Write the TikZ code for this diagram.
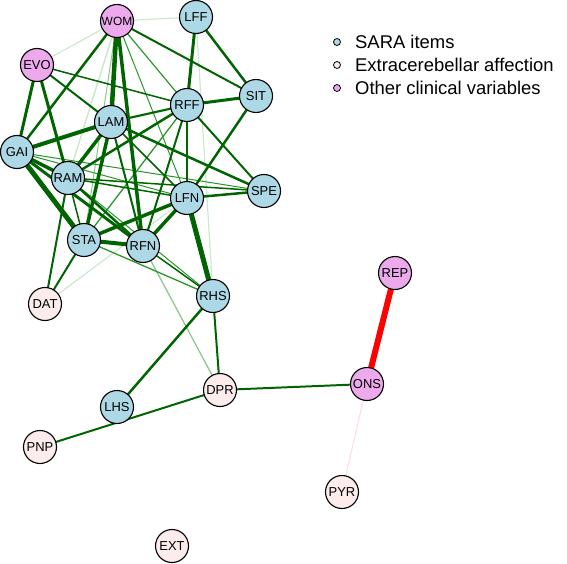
\documentclass[tikz,border=0pt]{standalone}
\usepackage{fontspec}
\setmainfont{Liberation Sans}
\usetikzlibrary{backgrounds}
\definecolor{saraFill}{RGB}{173,216,230}
\definecolor{extraFill}{RGB}{253,236,236}
\definecolor{otherFill}{RGB}{236,170,236}
\definecolor{posDark}{RGB}{0,100,0}
\definecolor{posMid}{RGB}{40,150,40}
\definecolor{posLight}{RGB}{140,200,140}
\definecolor{posFaint}{RGB}{205,232,205}
\definecolor{negRed}{RGB}{255,0,0}
\definecolor{negFaint}{RGB}{250,226,226}
\tikzset{
  var/.style={circle, draw, line width=1.1bp, minimum size=33bp, inner sep=0pt,
    font=\fontsize{13}{13}\selectfont},
  sara/.style={var, fill=saraFill},
  extra/.style={var, fill=extraFill},
  other/.style={var, fill=otherFill},
  corr/.style={draw=posDark, line width=#1},
  midcorr/.style={draw=posMid, line width=#1},
  weakcorr/.style={draw=posLight, line width=#1},
  faintcorr/.style={draw=posFaint, line width=#1},
  negcorr/.style={draw=negRed, line width=#1},
  keydot/.style={circle, draw, line width=0.8bp, minimum size=7bp, inner sep=0pt},
  keytext/.style={anchor=west, inner sep=0pt, font=\fontsize{18.5}{20}\selectfont}
}
\def\Network{
  \node[other, font=\fontsize{12}{12}\selectfont] (WOM) at (117,21) {WOM};
  \node[sara]  (LFF) at (196,17)  {LFF};
  \node[other] (EVO) at (37,65)   {EVO};
  \node[sara]  (RFF) at (187,105) {RFF};
  \node[sara]  (SIT) at (256,96)  {SIT};
  \node[sara]  (LAM) at (111,122) {LAM};
  \node[sara]  (GAI) at (17,152)  {GAI};
  \node[sara]  (RAM) at (68,178)  {RAM};
  \node[sara]  (LFN) at (187,198) {LFN};
  \node[sara]  (SPE) at (264,191) {SPE};
  \node[sara]  (STA) at (84,240)  {STA};
  \node[sara]  (RFN) at (143,246) {RFN};
  \node[sara]  (RHS) at (213,296) {RHS};
  \node[extra] (DAT) at (45,304)  {DAT};
  \node[other] (REP) at (395,273) {REP};
  \node[extra] (DPR) at (220,390) {DPR};
  \node[other] (ONS) at (367,384) {ONS};
  \node[sara]  (LHS) at (117,407) {LHS};
  \node[extra] (PNP) at (40,447)  {PNP};
  \node[extra] (PYR) at (342,492) {PYR};
  \node[extra] (EXT) at (172,546) {EXT};
}
\begin{document}
\begin{tikzpicture}[x=1bp, y=-1bp]
  \useasboundingbox (0,0) rectangle (567,564);
  \Network

  % legend
  \node[keydot, fill=saraFill]  (keySARA)  at (337,42) {};
  \node[keydot, fill=extraFill] (keyEXTRA) at (337,65) {};
  \node[keydot, fill=otherFill] (keyOTHER) at (337,88) {};
  \node[keytext] (txtSARA)  at (355,42) {SARA items};
  \node[keytext] (txtEXTRA) at (355,65) {Extracerebellar affection};
  \node[keytext] (txtOTHER) at (355,88) {Other clinical variables};

  \begin{pgfonlayer}{background}
    % faint ones first
    \draw[faintcorr=1.2] (WOM.center) -- (EVO.center);
    \draw[faintcorr=1.2] (WOM.center) -- (LFF.center);
    \draw[faintcorr=1.2] (LFF.center) -- (RHS.center);
    \draw[faintcorr=1.2] (LFN.center) -- (DAT.center);
    \draw[weakcorr=1]    (WOM.center) -- (STA.center);
    \draw[faintcorr=1.5] (WOM.center) -- (RAM.center);
    \draw[weakcorr=1.3]  (RFN.center) -- (DPR.center);
    \draw[faintcorr=2.5] (RFF.center) -- (LAM.center);
    \draw[faintcorr=2.5] (LFN.center) -- (STA.center);
    \draw[negFaint, line width=1.2] (ONS.center) -- (PYR.center);
    % green, middle
    \draw[midcorr=1.2] (WOM.center) -- (RFF.center);
    \draw[midcorr=1]   (WOM.center) -- (LFN.center);
    \draw[midcorr=1]   (GAI.center) -- (LFN.center);
    \draw[midcorr=1]   (GAI.center) -- (SPE.center);
    \draw[midcorr=1]   (RAM.center) -- (RHS.center);
    \draw[midcorr=1.3] (STA.center) -- (RHS.center);
    \draw[midcorr=1.3] (RFF.center) -- (STA.center);
    % dark green
    \draw[corr=2]   (WOM.center) -- (SIT.center);
    \draw[corr=2.5] (WOM.center) -- (GAI.center);
    \draw[corr=1.5] (EVO.center) -- (RFF.center);
    \draw[corr=2]   (EVO.center) -- (LAM.center);
    \draw[corr=2.5] (LFF.center) -- (SIT.center);
    \draw[corr=2]   (RFF.center) -- (LAM.center);
    \draw[corr=2.5] (RFF.center) -- (RAM.center);
    \draw[corr=1.5] (RFF.center) -- (LFN.center);
    \draw[corr=2]   (RFF.center) -- (RFN.center);
    \draw[corr=2]   (RFF.center) -- (SPE.center);
    \draw[corr=2.5] (SIT.center) -- (LFN.center);
    \draw[corr=1.5] (LAM.center) -- (LFN.center);
    \draw[corr=2]   (LAM.center) -- (RFN.center);
    \draw[corr=2.5] (LAM.center) -- (SPE.center);
    \draw[corr=1.5] (RAM.center) -- (LFN.center);
    \draw[corr=1.5] (RAM.center) -- (SPE.center);
    \draw[corr=2.5] (RAM.center) -- (RFN.center);
    \draw[corr=1.5] (RAM.center) -- (STA.center);
    \draw[corr=2]   (RAM.center) -- (DAT.center);
    \draw[corr=2.5] (LFN.center) -- (SPE.center);
    \draw[corr=2]   (STA.center) -- (DAT.center);
    \draw[corr=1.5] (RFN.center) -- (RHS.center);
    \draw[corr=2.5] (RHS.center) -- (LHS.center);
    \draw[corr=2]   (RHS.center) -- (DPR.center);
    \draw[corr=2]   (DPR.center) -- (ONS.center);
    \draw[corr=2]   (DPR.center) -- (PNP.center);
    % thick
    \draw[corr=3]   (EVO.center) -- (GAI.center);
    \draw[corr=3]   (EVO.center) -- (RAM.center);
    \draw[corr=3]   (LFF.center) -- (RFF.center);
    \draw[corr=3]   (RFF.center) -- (SIT.center);
    \draw[corr=3.5] (WOM.center) -- (RFN.center);
    \draw[corr=4.5] (WOM.center) -- (LAM.center);
    \draw[corr=4]   (LAM.center) -- (GAI.center);
    \draw[corr=3.5] (LAM.center) -- (RAM.center);
    \draw[corr=3.5] (LAM.center) -- (STA.center);
    \draw[corr=3.5] (GAI.center) -- (RAM.center);
    \draw[corr=5]   (GAI.center) -- (STA.center);
    \draw[corr=3]   (GAI.center) -- (RFN.center);
    \draw[corr=3.5] (LFN.center) -- (STA.center);
    \draw[corr=3.5] (LFN.center) -- (RFN.center);
    \draw[corr=5]   (LFN.center) -- (RHS.center);
    \draw[corr=4]   (STA.center) -- (RFN.center);
    \draw[negcorr=6] (ONS.center) -- (REP.center);
  \end{pgfonlayer}
\end{tikzpicture}
\end{document}
